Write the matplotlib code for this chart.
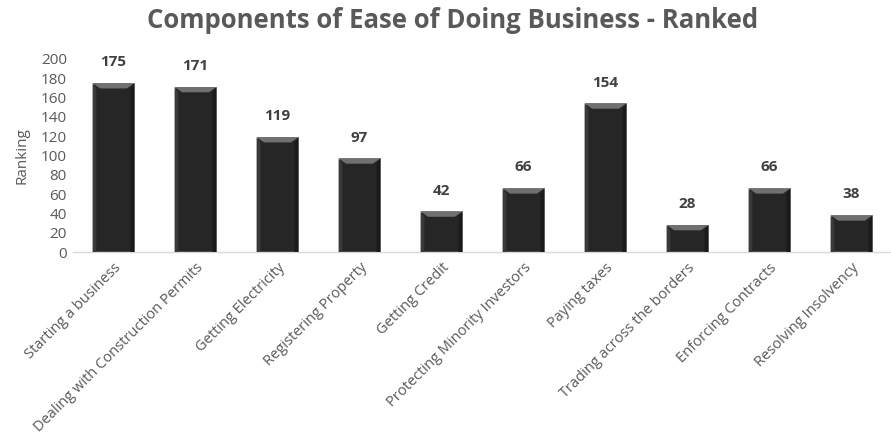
import matplotlib
matplotlib.use("Agg")
import matplotlib.pyplot as plt
from matplotlib.patches import Polygon
import numpy as np

categories = ["Starting a business", "Dealing with Construction Permits", "Getting Electricity",
              "Registering Property", "Getting Credit", "Protecting Minority Investors",
              "Paying taxes", "Trading across the borders", "Enforcing Contracts",
              "Resolving Insolvency"]
rankings = [175, 171, 119, 97, 42, 66, 154, 28, 66, 38]
yticks = [0, 20, 40, 60, 80, 100, 120, 140, 160, 180, 200]

plt.rcParams['font.family'] = ['Open Sans', 'DejaVu Sans']
grey = "#595959"

fig = plt.figure(figsize=(8.91, 4.46), dpi=100)
ax = fig.add_axes([72.5/891, 1-252/446, 820/891, 193/446])

x = np.arange(len(categories))
width = 0.51
bars = ax.bar(x, rankings, width=width, color="#262626", edgecolor="#8a8a8a", linewidth=0.6, zorder=2)

# bevel highlights on top of each bar
for b in bars:
    x0 = b.get_x(); w = b.get_width(); h = b.get_height()
    bw = w * 0.18
    bh = 5.5
    top = Polygon([(x0, h), (x0 + w, h), (x0 + w - bw, h - bh), (x0 + bw, h - bh)],
                  closed=True, facecolor="#707070", edgecolor="none", zorder=3)
    ax.add_patch(top)
    left = Polygon([(x0, h), (x0 + bw*0.5, h - bh), (x0 + bw*0.5, 0), (x0, 0)],
                   closed=True, facecolor="#3a3a3a", edgecolor="none", zorder=3)
    ax.add_patch(left)
    right = Polygon([(x0 + w, h), (x0 + w - bw*0.5, h - bh), (x0 + w - bw*0.5, 0), (x0 + w, 0)],
                    closed=True, facecolor="#1a1a1a", edgecolor="none", zorder=3)
    ax.add_patch(right)

for xi, v in zip(x, rankings):
    ax.annotate(str(v), (xi, v), xytext=(0, 10), textcoords="offset points",
                ha="center", va="bottom", fontsize=11, fontweight="bold", color="#404040")

ax.set_xlim(-0.5, len(categories) - 0.5)
ax.set_ylim(0, 200)
ax.set_yticks(yticks)
ax.set_yticklabels([str(t) for t in yticks], fontsize=11, color=grey)
ax.set_xticks(x)
ax.set_xticklabels(categories, rotation=45, ha="right", rotation_mode="anchor",
                   fontsize=10.5, color=grey)
ax.tick_params(axis="both", length=0, pad=4)
ax.tick_params(axis="x", pad=6)
for s in ["top", "right", "left"]:
    ax.spines[s].set_visible(False)
ax.spines["bottom"].set_color("#d9d9d9")
ax.spines["bottom"].set_linewidth(1)
ax.set_ylabel("Ranking", fontsize=11, color=grey, labelpad=8)

fig.text(0.508, 1 - 20/446, "Components of Ease of Doing Business - Ranked",
         ha="center", va="center", fontsize=18.5, fontweight="bold", color=grey)

fig.savefig("out.png", dpi=100)
